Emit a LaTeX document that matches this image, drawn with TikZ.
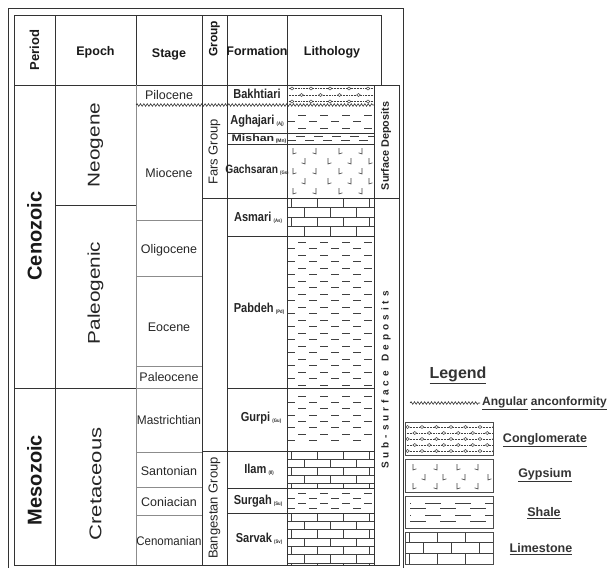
\documentclass[tikz,border=0pt]{standalone}
\usepackage{graphicx}
\usepackage{fontspec}
\setmainfont{Liberation Sans}
\newfontfamily\narrowfont[FakeStretch=0.85]{Liberation Sans}
\newfontfamily\spacedfont[LetterSpace=40]{Liberation Sans}
\usetikzlibrary{decorations.pathmorphing}

\newcommand\abbr[1]{\,{\fontsize{5}{6}\selectfont\raisebox{-1.5pt}{(#1)}}}

\newcommand\shalerows[5]{% x1,x2,{ylist},dash,period
  \pgfmathsetmacro\shgap{#5-#4}%
  \foreach \yy [count=\i] in {#3}{%
    \pgfmathsetmacro\shph{mod(\i,2)*#5/2}%
    \draw[lith, dash pattern=on #4pt off \shgap pt, dash phase=\shph pt] (#1,\yy) -- (#2,\yy);
  }}

\newcommand\limestone[6]{% x1,y1,x2,y2,rowh,brickw
  \begin{scope}
    \clip (#1,#2) rectangle (#3,#4);
    \pgfmathtruncatemacro\lsn{ceil((#4-#2)/#5)}%
    \foreach \r in {1,...,\lsn}{%
      \pgfmathsetmacro\lya{#2+(\r-1)*#5}%
      \pgfmathsetmacro\lyb{#2+\r*#5}%
      \draw[lith] (#1,\lyb) -- (#3,\lyb);
      \pgfmathsetmacro\lxo{#1+4+mod(\r+1,2)*#6/2}%
      \foreach \k in {0,...,5}{%
        \draw[lith] ({\lxo+\k*#6},\lya) -- ({\lxo+\k*#6},\lyb);
      }%
    }%
  \end{scope}}

\newcommand\conglo[7]{% x1,y1,x2,y2,{ylist},spacing,offset
  \begin{scope}
    \clip (#1,#2) rectangle (#3,#4);
    \foreach \yy [count=\i] in {#5}{%
      \draw[lith, densely dotted, line width=0.7pt] (#1,\yy) -- (#3,\yy);
      \pgfmathsetmacro\cgo{#1+#7+mod(\i+1,2)*#6/2}%
      \foreach \k in {0,...,8}{%
        \draw[lith, fill=white, line width=0.5pt] ({\cgo+\k*#6},\yy) ellipse (1.9 and 1.5);
      }%
    }%
  \end{scope}}

\tikzset{
  tbl/.style={draw=black!80, line width=0.8pt},
  tblg/.style={draw=black!45, line width=0.8pt},
  lith/.style={draw=black!75, line width=0.55pt},
  wavy/.style={draw=black!80, line width=0.6pt, decorate,
    decoration={snake, segment length=3.4pt, amplitude=1.3pt}},
  gypL/.pic={\draw[lith, line width=0.6pt] (0,-3) -- (0,3) -- (3.5,1.8);},
  gypJ/.pic={\draw[lith, line width=0.6pt] (0,-3) -- (0,3) -- (-3.5,1.8);},
  hdr/.style={font=\bfseries\fontsize{12.5}{14}\selectfont, text=black!90, inner sep=0pt},
  per/.style={font=\bfseries\fontsize{20}{22}\selectfont, text=black!90, inner sep=0pt, rotate=90},
  epo/.style={font=\fontsize{17}{19}\selectfont, text=black!85, inner sep=0pt, rotate=90},
  stg/.style={font=\fontsize{12.5}{14}\selectfont, text=black!85, inner sep=0pt},
  grp/.style={font=\fontsize{13}{15}\selectfont, text=black!85, inner sep=0pt, rotate=90},
  fm/.style={font=\narrowfont\bfseries\fontsize{13}{15}\selectfont, text=black!85, inner sep=0pt},
  dep/.style={font=\bfseries\fontsize{10.8}{12}\selectfont, text=black!85, inner sep=0pt, rotate=90},
  leg/.style={font=\bfseries\fontsize{12.5}{14}\selectfont, text=black!80, inner sep=0pt},
  legbox/.style={draw=black!70, line width=0.9pt},
}

\begin{document}
\begin{tikzpicture}[x=1pt, y=-1pt]
\useasboundingbox (0,0) rectangle (611,568);

% ---------- lithology patterns ----------
% Bakhtiari conglomerate
\conglo{287}{85}{374}{105}{88.5,95,101.5}{19}{5}
% Aghajari / Mishan shale
\shalerows{287}{374}{115,121.5,128}{8}{22}
\shalerows{287}{374}{136.5,140.5}{9}{18}
% Gachsaran gypsum
\foreach \x [count=\j] in {293,316,339,362}{
  \foreach \y in {151,171,191}{
    \ifodd\j \pic at (\x,\y) {gypL}; \else \pic at (\x,\y) {gypJ}; \fi
  }}
\foreach \x [count=\j] in {305,328,351,369}{
  \foreach \y in {161,181}{
    \ifodd\j \pic at (\x,\y) {gypJ}; \else \pic at (\x,\y) {gypL}; \fi
  }}
% Asmari limestone
\limestone{287}{198}{374}{236}{9.5}{26}
% Pabdeh shale
\shalerows{287}{374}{242,248.5,...,385}{8}{22}
% Gurpi shale
\shalerows{287}{374}{396,402.3,...,446}{8}{22}
% Ilam limestone
\limestone{287}{451}{374}{488}{8}{26}
% Surgah shale
\shalerows{287}{374}{493,498,503,508}{8}{22}
% Sarvak limestone
\limestone{287}{513}{374}{565}{8.3}{26}

% ---------- frame and table ----------
\draw[tbl] (8,568) -- (8,8) -- (403,8) -- (403,568);
% header
\draw[tbl] (14,15) rectangle (381,85);
\foreach \x in {55,136,202,227,287} \draw[tbl] (\x,15) -- (\x,85);
% body
\draw[tbl] (14,85) rectangle (399,565);
\foreach \x in {55,202,227,287,374} \draw[tbl] (\x,85) -- (\x,565);
\draw[tblg] (136,85) -- (136,565);
\draw[tbl] (14,388) -- (136,388);
\draw[tbl] (55,205) -- (136,205);
\foreach \y in {220,276,366,388,452,487,515} \draw[tblg] (136,\y) -- (202,\y);
\draw[tbl] (202,198) -- (399,198);
\draw[tbl] (202,451) -- (374,451);
\foreach \y in {133,144,236,388,488,513} \draw[tbl] (227,\y) -- (374,\y);
% unconformity
\draw[wavy] (136,105) -- (374,105);

% ---------- header texts ----------
\node[hdr, rotate=90, font=\bfseries\fontsize{13}{15}\selectfont] (hPeriod) at (34.5,50) {Period};
\node[hdr] (hEpoch) at (95.5,52) {Epoch};
\node[hdr] (hStage) at (169,54) {Stage};
\node[hdr, rotate=90, font=\bfseries\fontsize{12}{14}\selectfont] (hGroup) at (214.5,39) {Group};
\node[hdr] (hFormation) at (257,51) {Formation};
\node[hdr] (hLithology) at (332,52) {Lithology};

% ---------- period / epoch ----------
\node[per] (cenozoic) at (34.5,236) {Cenozoic};
\node[per] (mesozoic) at (34.5,480) {Mesozoic};
\node[epo] (neogene) at (95.5,145) {\scalebox{1.22}[1]{Neogene}};
\node[epo] (paleogenic) at (95.5,293) {\scalebox{1.22}[1]{Paleogenic}};
\node[epo] (cretaceous) at (95.5,484) {\scalebox{1.3}[1]{Cretaceous}};

% ---------- stages ----------
\node[stg] (pilocene) at (169,95) {Pilocene};
\node[stg] (miocene) at (169,173) {Miocene};
\node[stg] (oligocene) at (169,250) {Oligocene};
\node[stg] (eocene) at (169,327) {Eocene};
\node[stg] (paleocene) at (169,377) {Paleocene};
\node[stg] (mastrichtian) at (169,420) {\scalebox{0.95}[1]{Mastrichtian}};
\node[stg] (santonian) at (169,471) {Santonian};
\node[stg] (coniacian) at (169,502) {Coniacian};
\node[stg] (cenomanian) at (169,541) {\scalebox{0.92}[1]{Cenomanian}};

% ---------- groups ----------
\node[grp] (fars) at (214.5,152) {Fars Group};
\node[grp] (bangestan) at (214.5,508) {Bangestan Group};

% ---------- formations ----------
\node[fm] (bakhtiari) at (257,94) {Bakhtiari};
\node[fm] (aghajari) at (257,121) {Aghajari\abbr{Aj}};
\node[fm, font=\bfseries\fontsize{9.5}{11}\selectfont] (mishan) at (259,139) {\scalebox{1.3}[1]{Mishan}\abbr{Mn}};
\node[fm, font=\narrowfont\bfseries\fontsize{12}{14}\selectfont] (gachsaran) at (257,170) {Gachsaran\abbr{Gs}};
\node[fm] (asmari) at (258,218) {Asmari\abbr{As}};
\node[fm] (pabdeh) at (259,309) {Pabdeh\abbr{Pd}};
\node[fm] (gurpi) at (261,418) {Gurpi\abbr{Gu}};
\node[fm] (ilam) at (259,470) {Ilam\abbr{Il}};
\node[fm] (surgah) at (258,501) {Surgah\abbr{Su}};
\node[fm] (sarvak) at (259,539) {Sarvak\abbr{Sv}};

% ---------- deposits ----------
\node[dep] (surface) at (386,146) {Surface Deposits};
\node[dep, font=\spacedfont\bfseries\fontsize{10}{12}\selectfont] (subsurface) at (386,380) {Sub-surface\hspace{3pt} Deposits};

% ---------- legend ----------
\node[leg, font=\bfseries\fontsize{16}{18}\selectfont] (legend) at (458,375) {\underline{Legend}};
\draw[wavy] (410,403) coordinate (wv1) -- (480,403) coordinate (wv2);
\node[leg, anchor=west, font=\bfseries\fontsize{12}{14}\selectfont] (angular) at (482,403) {\underline{Angular} \underline{anconformity}};

\conglo{405}{422}{493}{455}{427,433,439,445,451}{14.5}{2.5}
\draw[legbox] (405,422) rectangle (493,455);
\node[leg] (conglomerate) at (545,440) {\underline{Conglomerate}};

\foreach \x [count=\j] in {413,437,457,478}{
  \foreach \y in {467,486}{
    \ifodd\j \pic at (\x,\y) {gypL}; \else \pic at (\x,\y) {gypJ}; \fi
  }}
\foreach \x [count=\j] in {425,443,465,488}{
  \ifodd\j \pic at (\x,477) {gypJ}; \else \pic at (\x,477) {gypL}; \fi
  }
\draw[legbox] (405,459) rectangle (493,492);
\node[leg] (gypsium) at (545,475) {\underline{Gypsium}};

\begin{scope}
\clip (405,496) rectangle (493,528);
\shalerows{410}{493}{503,508.5,515,521.5}{16}{30}
\end{scope}
\draw[legbox] (405,496) rectangle (493,528);
\node[leg] (shale) at (544,513) {\underline{Shale}};

\limestone{405}{532}{493}{564}{10.7}{28}
\draw[legbox] (405,532) rectangle (493,564);
\node[leg] (limestone) at (541,549) {\underline{Limestone}};
\end{tikzpicture}
\end{document}
